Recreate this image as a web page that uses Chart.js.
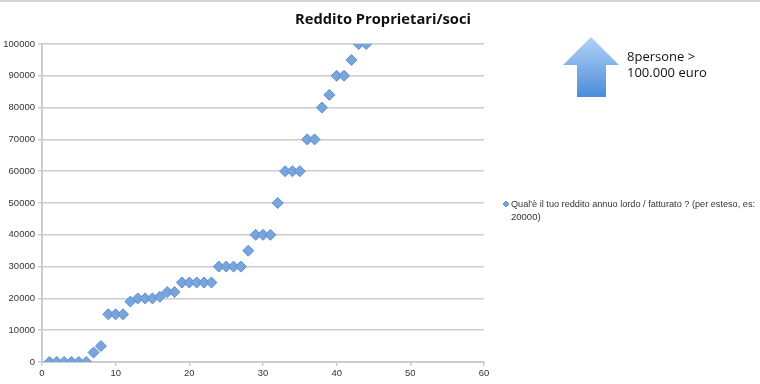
<!DOCTYPE html>
<html>
<head>
<meta charset="utf-8">
<script src="https://cdn.jsdelivr.net/npm/chart.js@4/dist/chart.umd.min.js"></script>
<style>
  html, body { margin: 0; padding: 0; background: #fff; }
  #wrap { width: 760px; height: 384px; position: relative; }
</style>
</head>
<body>
<div id="wrap"><canvas id="chart1"></canvas></div>
<script>
const titleText = 'Reddito Proprietari/soci';
const seriesLabel = ["Qual'è il tuo reddito annuo lordo / fatturato ? (per esteso, es:", '20000)'];
const noteLines = ['8persone >', '100.000 euro'];

const respondent = [1, 2, 3, 4, 5, 6, 7, 8, 9, 10, 11, 12, 13, 14, 15, 16, 17, 18, 19, 20, 21, 22,
  23, 24, 25, 26, 27, 28, 29, 30, 31, 32, 33, 34, 35, 36, 37, 38, 39, 40, 41, 42, 43, 44];
const reddito = [0, 0, 0, 0, 0, 0, 3000, 5000, 15000, 15000, 15000, 19000, 20000, 20000, 20000, 20500,
  22000, 22000, 25000, 25000, 25000, 25000, 25000, 30000, 30000, 30000, 30000, 35000, 40000, 40000,
  40000, 50000, 60000, 60000, 60000, 70000, 70000, 80000, 84000, 90000, 90000, 95000, 100000, 100000];

const xTicks = [0, 10, 20, 30, 40, 50, 60];
const yTicks = [0, 10000, 20000, 30000, 40000, 50000, 60000, 70000, 80000, 90000, 100000];

const points = respondent.map((x, i) => ({ x: x, y: reddito[i] }));

// titolo, freccia, nota e legenda disegnati a mano
const extras = {
  id: 'extras',
  afterDraw(chart) {
    const c = chart.ctx;
    c.save();
    c.fillStyle = '#d4d4d4';
    c.fillRect(0, 0, 760, 2);

    c.fillStyle = '#111';
    c.font = 'bold 15px "Open Sans", sans-serif';
    c.textAlign = 'center';
    c.textBaseline = 'middle';
    c.fillText(titleText, 383, 20, 176);

    // freccia
    const g = c.createLinearGradient(0, 37, 0, 97);
    g.addColorStop(0, '#b3d3f6');
    g.addColorStop(1, '#4a8cda');
    c.fillStyle = g;
    c.beginPath();
    c.moveTo(591, 37);
    c.lineTo(619, 65);
    c.lineTo(606, 65);
    c.lineTo(606, 97);
    c.lineTo(577, 97);
    c.lineTo(577, 65);
    c.lineTo(563, 65);
    c.closePath();
    c.fill();

    c.fillStyle = '#111';
    c.font = '13px "Open Sans", sans-serif';
    c.textAlign = 'left';
    c.fillText(noteLines[0], 627, 57);
    c.fillText(noteLines[1], 627, 73);

    // legenda
    c.fillStyle = '#7aa5dc';
    c.strokeStyle = '#5a8fd0';
    c.beginPath();
    c.moveTo(503, 204);
    c.lineTo(506, 201);
    c.lineTo(509, 204);
    c.lineTo(506, 207);
    c.closePath();
    c.fill();
    c.stroke();
    c.fillStyle = '#333';
    c.font = '9.5px "Liberation Sans", sans-serif';
    c.fillText(seriesLabel[0], 511, 204, 244);
    c.fillText(seriesLabel[1], 511, 217);
    c.restore();
  }
};

const tickFont = { size: 9.5, family: '"Liberation Sans", sans-serif' };

const ctx1 = document.getElementById('chart1').getContext('2d');
const chart1 = new Chart(ctx1, {
  type: 'scatter',
  data: {
    datasets: [{
      label: seriesLabel.join(' '),
      data: points,
      pointStyle: 'rectRot',
      pointRadius: 5.5,
      backgroundColor: '#7aa5dc',
      borderColor: '#5a8fd0',
      borderWidth: 1
    }]
  },
  options: {
    responsive: true,
    maintainAspectRatio: false,
    animation: false,
    layout: { padding: { top: 44, right: 276, left: 0, bottom: 0 } },
    plugins: {
      legend: { display: false },
      title: { display: false },
      tooltip: { enabled: false }
    },
    scales: {
      x: {
        type: 'linear',
        min: 0,
        max: 60,
        afterBuildTicks: s => { s.ticks = xTicks.map(v => ({ value: v })); },
        afterFit: s => { s.height = 22; },
        grid: { drawOnChartArea: false, drawTicks: true, tickLength: 4, color: '#cccccc', lineWidth: 1.5 },
        border: { color: '#cccccc', width: 2 },
        ticks: { color: '#333', font: tickFont, padding: 2, callback: v => String(v) }
      },
      y: {
        min: 0,
        max: 100000,
        afterBuildTicks: s => { s.ticks = yTicks.map(v => ({ value: v })); },
        afterFit: s => { s.width = 42; },
        grid: { color: '#cccccc', lineWidth: 1.5, tickLength: 4 },
        border: { color: '#cccccc', width: 2 },
        ticks: { color: '#333', font: tickFont, padding: 3, callback: v => String(v) }
      }
    }
  },
  plugins: [extras]
});
</script>
</body>
</html>
